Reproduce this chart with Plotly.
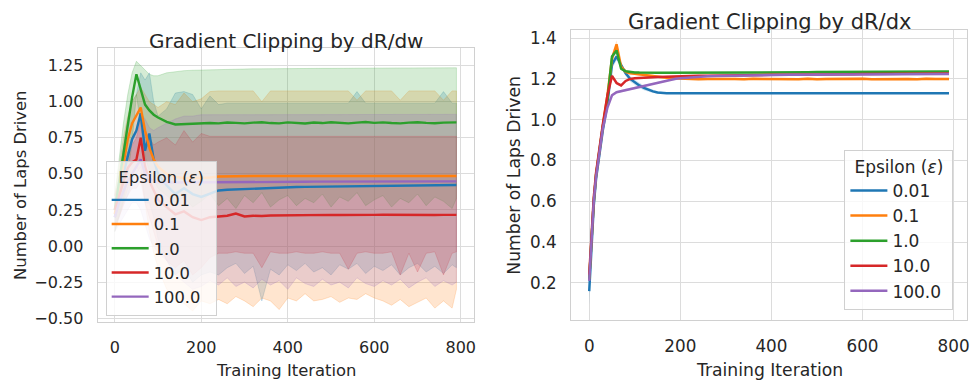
import plotly.graph_objects as go

# ---------------- data: left panel (Gradient Clipping by dR/dw) ----------------
X_L = [0, 10, 20, 30, 40, 50, 60, 70, 80, 90, 100, 120, 140, 160, 180, 200, 220, 240, 260, 280,
       300, 320, 340, 360, 380, 400, 420, 440, 460, 480, 500, 520, 540, 560, 580, 600, 620, 640,
       660, 680, 700, 720, 740, 760, 780, 790]

L_BLUE = [0.20, 0.35, 0.50, 0.62, 0.74, 0.80, 0.92, 0.66, 0.78, 0.60, 0.50,
          0.42, 0.36, 0.40, 0.36, 0.34, 0.36, 0.385, 0.39, 0.393, 0.396, 0.398, 0.40, 0.403, 0.405,
          0.407, 0.409, 0.41, 0.411, 0.412, 0.413, 0.414, 0.415, 0.416, 0.417, 0.418, 0.418, 0.419,
          0.42, 0.42, 0.421, 0.421, 0.422, 0.422, 0.423, 0.423]
L_ORANGE = [0.22, 0.40, 0.58, 0.74, 0.85, 0.91, 0.96, 0.80, 0.68, 0.60, 0.55,
            0.50, 0.48, 0.47, 0.47, 0.47, 0.475, 0.482, 0.484, 0.485, 0.484, 0.485, 0.485, 0.484,
            0.485, 0.485, 0.486, 0.485, 0.485, 0.484, 0.485, 0.485, 0.486, 0.485, 0.485, 0.484,
            0.485, 0.485, 0.486, 0.485, 0.485, 0.484, 0.485, 0.485, 0.485, 0.485]
L_GREEN = [0.25, 0.45, 0.66, 0.86, 1.03, 1.19, 1.08, 0.98, 0.94, 0.91, 0.89,
           0.86, 0.842, 0.845, 0.85, 0.848, 0.852, 0.85, 0.856, 0.853, 0.85, 0.855, 0.858, 0.852,
           0.85, 0.857, 0.853, 0.849, 0.856, 0.852, 0.858, 0.854, 0.85, 0.855, 0.859, 0.853, 0.857,
           0.852, 0.85, 0.855, 0.858, 0.853, 0.851, 0.855, 0.858, 0.857]
L_RED = [0.25, 0.35, 0.45, 0.54, 0.58, 0.60, 0.75, 0.55, 0.45, 0.38, 0.32,
         0.27, 0.22, 0.24, 0.20, 0.18, 0.20, 0.205, 0.21, 0.225, 0.205, 0.21, 0.208, 0.212, 0.213,
         0.214, 0.213, 0.215, 0.214, 0.215, 0.216, 0.215, 0.214, 0.216, 0.215, 0.216, 0.217, 0.216,
         0.215, 0.216, 0.217, 0.216, 0.215, 0.216, 0.215, 0.216]
L_PURPLE = [0.20, 0.30, 0.38, 0.45, 0.50, 0.55, 0.60, 0.50, 0.47, 0.45, 0.44,
            0.44, 0.44, 0.44, 0.441, 0.441, 0.442, 0.442, 0.443, 0.443, 0.443, 0.444, 0.444, 0.444,
            0.445, 0.445, 0.445, 0.445, 0.446, 0.446, 0.446, 0.446, 0.446, 0.446, 0.447, 0.447,
            0.447, 0.447, 0.447, 0.447, 0.447, 0.448, 0.448, 0.448, 0.448, 0.448]

L_BLUE_LO = [0.10, 0.20, 0.30, 0.35, 0.45, 0.50, 0.55, 0.30, 0.30, 0.20, 0.05,
             -0.10, -0.20, -0.15, -0.25, -0.20, -0.18, -0.20, -0.15, -0.12, -0.19, -0.14, -0.38,
             -0.16, -0.20, -0.13, -0.17, -0.12, -0.18, -0.15, -0.20, -0.13, -0.16, -0.12, -0.19,
             -0.14, -0.17, -0.13, -0.20, -0.15, -0.12, -0.18, -0.14, -0.19, -0.13, -0.15]
L_BLUE_HI = [0.30, 0.50, 0.70, 0.88, 1.00, 1.05, 1.20, 1.15, 1.20, 1.00, 0.90,
             0.95, 1.06, 1.07, 1.05, 0.95, 1.04, 0.98, 0.99, 0.99, 0.99, 0.99, 0.995, 0.99, 0.99,
             0.99, 0.99, 0.99, 0.99, 0.99, 0.99, 0.99, 0.99, 1.07, 0.99, 0.99, 0.99, 0.99, 0.99,
             0.99, 0.99, 0.99, 0.99, 1.07, 0.99, 0.99]
L_ORANGE_LO = [0.10, 0.20, 0.30, 0.40, 0.50, 0.55, 0.50, 0.30, 0.10, -0.05, -0.15,
               -0.30, -0.35, -0.40, -0.45, -0.38, -0.40, -0.37, -0.40, -0.35, -0.38, -0.42, -0.36,
               -0.38, -0.44, -0.36, -0.38, -0.33, -0.38, -0.37, -0.35, -0.39, -0.36, -0.37, -0.33,
               -0.36, -0.38, -0.41, -0.37, -0.42, -0.39, -0.36, -0.43, -0.38, -0.43, -0.30]
L_ORANGE_HI = [0.35, 0.55, 0.75, 0.90, 1.00, 1.05, 1.10, 1.05, 1.00, 0.98, 0.96,
               1.00, 0.98, 1.06, 1.00, 1.02, 1.07, 1.075, 1.075, 1.075, 1.075, 1.075, 1.00, 1.075,
               1.075, 1.075, 1.075, 1.075, 1.075, 1.075, 1.075, 1.075, 1.075, 1.01, 1.075, 1.075,
               1.075, 1.075, 1.01, 1.075, 1.075, 1.075, 1.075, 1.01, 1.075, 1.075]
L_GREEN_LO = [0.10, 0.20, 0.32, 0.48, 0.72, 1.05, 0.82, 0.62, 0.52, 0.46, 0.40,
              0.35, 0.30, 0.34, 0.27, 0.31, 0.36, 0.28, 0.33, 0.26, 0.35, 0.30, 0.37, 0.27, 0.32,
              0.35, 0.28, 0.33, 0.30, 0.36, 0.27, 0.34, 0.31, 0.37, 0.28, 0.32, 0.35, 0.27, 0.33,
              0.30, 0.36, 0.28, 0.34, 0.31, 0.26, 0.33]
L_GREEN_HI = [0.35, 0.60, 0.85, 1.05, 1.20, 1.28, 1.25, 1.22, 1.19, 1.18, 1.18,
              1.20, 1.21, 1.215, 1.218, 1.22, 1.222, 1.224, 1.225, 1.226, 1.227, 1.228, 1.228,
              1.229, 1.229, 1.23, 1.23, 1.23, 1.231, 1.231, 1.231, 1.232, 1.232, 1.232, 1.233,
              1.233, 1.233, 1.233, 1.234, 1.234, 1.234, 1.234, 1.235, 1.235, 1.235, 1.235]
L_RED_LO = [0.15, 0.20, 0.28, 0.35, 0.40, 0.40, 0.45, 0.30, 0.20, 0.10, 0.00,
            -0.10, -0.15, -0.10, -0.20, -0.15, -0.08, -0.05, -0.05, -0.04, -0.05, -0.05, -0.15,
            -0.04, -0.05, -0.05, -0.04, -0.05, -0.05, -0.04, -0.05, -0.05, -0.16, -0.05, -0.04,
            -0.05, -0.05, -0.04, -0.20, -0.05, -0.18, -0.05, -0.04, -0.20, -0.05, -0.04]
L_RED_HI = [0.35, 0.45, 0.55, 0.65, 0.70, 0.75, 0.88, 0.80, 0.75, 0.70, 0.72,
            0.75, 0.70, 0.80, 0.72, 0.78, 0.76, 0.76, 0.76, 0.76, 0.76, 0.76, 0.761, 0.76, 0.76,
            0.761, 0.76, 0.76, 0.761, 0.76, 0.76, 0.761, 0.76, 0.76, 0.761, 0.76, 0.76, 0.761,
            0.76, 0.76, 0.761, 0.76, 0.76, 0.761, 0.76, 0.76]
L_PURPLE_LO = [0.10, 0.15, 0.20, 0.25, 0.30, 0.30, 0.25, 0.15, 0.05, 0.00, -0.05,
               -0.10, -0.20, -0.25, -0.30, -0.28, -0.24, -0.27, -0.22, -0.28, -0.25, -0.29, -0.23,
               -0.27, -0.24, -0.30, -0.22, -0.26, -0.28, -0.23, -0.27, -0.25, -0.29, -0.22, -0.26,
               -0.28, -0.24, -0.27, -0.23, -0.29, -0.25, -0.22, -0.28, -0.24, -0.27, -0.25]
L_PURPLE_HI = [0.30, 0.42, 0.55, 0.65, 0.72, 0.80, 0.92, 0.88, 0.82, 0.80, 0.82,
               0.85, 0.88, 0.90, 0.90, 0.91, 0.91, 0.91, 0.912, 0.91, 0.91, 0.912, 0.91, 0.91,
               0.912, 0.91, 0.91, 0.912, 0.91, 0.91, 0.912, 0.91, 0.91, 0.912, 0.91, 0.91, 0.912,
               0.91, 0.91, 0.912, 0.91, 0.91, 0.912, 0.91, 0.91, 0.912]

# ---------------- data: right panel (Gradient Clipping by dR/dx) ----------------
X_R = [0, 5, 10, 15, 20, 25, 30, 40, 50, 60, 70, 80, 90, 100, 110, 120, 130, 140, 150, 160, 170,
       180, 190, 200, 220, 240, 260, 280, 300, 320, 340, 360, 380, 400, 420, 440, 460, 480, 500,
       520, 540, 560, 580, 600, 620, 640, 660, 680, 700, 720, 740, 760, 780, 790]

R_BLUE = [0.16, 0.40, 0.58, 0.71, 0.80, 0.88, 0.95, 1.08, 1.27, 1.31, 1.265, 1.228, 1.20, 1.183,
          1.168, 1.156, 1.146, 1.139, 1.134, 1.131, 1.13, 1.13, 1.13, 1.13,
          1.13, 1.131, 1.13, 1.13, 1.131, 1.13, 1.13, 1.131, 1.13, 1.13, 1.131, 1.13, 1.13, 1.131,
          1.13, 1.13, 1.131, 1.13, 1.13, 1.131, 1.13, 1.13, 1.131, 1.13, 1.13, 1.131, 1.13, 1.13,
          1.131, 1.13]
R_ORANGE = [0.22, 0.43, 0.60, 0.73, 0.82, 0.90, 0.97, 1.12, 1.30, 1.37, 1.26, 1.235, 1.228, 1.225,
            1.222, 1.218, 1.215, 1.212, 1.21, 1.208, 1.206, 1.204, 1.203, 1.202,
            1.201, 1.199, 1.20, 1.201, 1.199, 1.20, 1.198, 1.201, 1.20, 1.199, 1.201, 1.20, 1.199,
            1.201, 1.198, 1.20, 1.201, 1.199, 1.20, 1.201, 1.199, 1.20, 1.201, 1.199, 1.20, 1.198,
            1.201, 1.20, 1.199, 1.20]
R_GREEN = [0.22, 0.43, 0.60, 0.73, 0.82, 0.90, 0.97, 1.10, 1.31, 1.34, 1.25, 1.238, 1.234, 1.232,
           1.231, 1.23, 1.23, 1.23, 1.23, 1.23, 1.23, 1.23, 1.23, 1.23,
           1.23, 1.23, 1.231, 1.231, 1.231, 1.232, 1.232, 1.232, 1.232, 1.233, 1.233, 1.233, 1.233,
           1.233, 1.234, 1.234, 1.234, 1.234, 1.234, 1.234, 1.235, 1.235, 1.235, 1.235, 1.235,
           1.235, 1.236, 1.236, 1.236, 1.236]
R_RED = [0.24, 0.45, 0.62, 0.74, 0.83, 0.91, 0.98, 1.12, 1.215, 1.18, 1.168, 1.19, 1.20, 1.203,
         1.205, 1.206, 1.207, 1.208, 1.209, 1.21, 1.211, 1.212, 1.213, 1.214,
         1.215, 1.216, 1.216, 1.217, 1.217, 1.218, 1.218, 1.219, 1.219, 1.22, 1.22, 1.22, 1.221,
         1.221, 1.222, 1.222, 1.222, 1.223, 1.223, 1.224, 1.224, 1.224, 1.225, 1.225, 1.225,
         1.226, 1.226, 1.226, 1.227, 1.227]
R_PURPLE = [0.21, 0.42, 0.60, 0.72, 0.81, 0.89, 0.96, 1.06, 1.12, 1.135, 1.14, 1.147, 1.152, 1.157,
            1.162, 1.167, 1.172, 1.178, 1.183, 1.188, 1.193, 1.197, 1.201, 1.204,
            1.208, 1.211, 1.213, 1.215, 1.216, 1.217, 1.218, 1.218, 1.219, 1.219, 1.22, 1.22, 1.22,
            1.221, 1.221, 1.221, 1.221, 1.222, 1.222, 1.222, 1.222, 1.222, 1.223, 1.223, 1.223,
            1.223, 1.223, 1.223, 1.224, 1.224]

# 95% CI half-widths (right panel)
R_BLUE_CI = [0.07, 0.05, 0.04, 0.03, 0.025, 0.02, 0.02, 0.02, 0.02, 0.02, 0.015, 0.014, 0.014,
             0.013, 0.012, 0.012, 0.01, 0.008, 0.006, 0.005, 0.004, 0.004, 0.004, 0.004,
             0.004, 0.004, 0.004, 0.004, 0.004, 0.004, 0.004, 0.004, 0.004, 0.004, 0.004, 0.004,
             0.004, 0.004, 0.004, 0.004, 0.004, 0.004, 0.004, 0.004, 0.004, 0.004, 0.004, 0.004,
             0.004, 0.004, 0.004, 0.004, 0.004, 0.004]
R_ORANGE_CI = [0.03, 0.03, 0.03, 0.025, 0.02, 0.02, 0.02, 0.02, 0.02, 0.02, 0.012, 0.008, 0.006,
               0.006, 0.006, 0.006, 0.006, 0.006, 0.006, 0.006, 0.006, 0.006, 0.006, 0.006,
               0.006, 0.006, 0.006, 0.006, 0.006, 0.006, 0.006, 0.006, 0.006, 0.006, 0.006, 0.006,
               0.006, 0.006, 0.006, 0.006, 0.006, 0.006, 0.006, 0.006, 0.006, 0.006, 0.006, 0.006,
               0.006, 0.006, 0.006, 0.006, 0.006, 0.006]
R_GREEN_CI = [0.03, 0.03, 0.03, 0.025, 0.02, 0.02, 0.02, 0.015, 0.012, 0.012, 0.008, 0.005,
              0.004, 0.004, 0.004, 0.004, 0.004, 0.004, 0.004, 0.004, 0.004, 0.004, 0.004, 0.004,
              0.004, 0.004, 0.004, 0.004, 0.004, 0.004, 0.004, 0.004, 0.004, 0.004, 0.004, 0.004,
              0.004, 0.004, 0.004, 0.004, 0.004, 0.004, 0.004, 0.004, 0.004, 0.004, 0.004, 0.004,
              0.004, 0.004, 0.004, 0.004, 0.004, 0.004]
R_RED_CI = [0.03, 0.03, 0.03, 0.025, 0.02, 0.02, 0.02, 0.015, 0.01, 0.008, 0.006, 0.005, 0.004,
            0.004, 0.004, 0.004, 0.004, 0.004, 0.004, 0.004, 0.004, 0.004, 0.004, 0.004,
            0.004, 0.004, 0.004, 0.004, 0.004, 0.004, 0.004, 0.004, 0.004, 0.004, 0.004, 0.004,
            0.004, 0.004, 0.004, 0.004, 0.004, 0.004, 0.004, 0.004, 0.004, 0.004, 0.004, 0.004,
            0.004, 0.004, 0.004, 0.004, 0.004, 0.004]
R_PURPLE_CI = [0.03, 0.03, 0.03, 0.025, 0.02, 0.02, 0.02, 0.012, 0.008, 0.006, 0.005, 0.005,
               0.005, 0.005, 0.005, 0.005, 0.005, 0.005, 0.005, 0.005, 0.005, 0.005, 0.005, 0.005,
               0.004, 0.004, 0.004, 0.004, 0.004, 0.004, 0.004, 0.004, 0.004, 0.004, 0.004, 0.004,
               0.004, 0.004, 0.004, 0.004, 0.004, 0.004, 0.004, 0.004, 0.004, 0.004, 0.004, 0.004,
               0.004, 0.004, 0.004, 0.004, 0.004, 0.004]

EPSILONS = ["0.01", "0.1", "1.0", "10.0", "100.0"]
COLORS = ["#1f77b4", "#ff7f0e", "#2ca02c", "#d62728", "#9467bd"]

LEFT_TICKS = [-0.5, -0.25, 0.0, 0.25, 0.5, 0.75, 1.0, 1.25]
RIGHT_TICKS = [0.2, 0.4, 0.6, 0.8, 1.0, 1.2, 1.4]
X_TICKS = [0, 200, 400, 600, 800]

FONT = "DejaVu Sans"
TXT = "#262626"


def rgba(hexc, a):
    h = hexc.lstrip("#")
    return "rgba(%d,%d,%d,%s)" % (int(h[0:2], 16), int(h[2:4], 16), int(h[4:6], 16), a)


def fmt(v, nd):
    s = f"{abs(v):.{nd}f}"
    return ("\u2212" + s) if v < 0 else s


NBSP = "\u00a0"

fig = go.Figure()

left_means = [L_BLUE, L_ORANGE, L_GREEN, L_RED, L_PURPLE]
left_lo = [L_BLUE_LO, L_ORANGE_LO, L_GREEN_LO, L_RED_LO, L_PURPLE_LO]
left_hi = [L_BLUE_HI, L_ORANGE_HI, L_GREEN_HI, L_RED_HI, L_PURPLE_HI]

right_means = [R_BLUE, R_ORANGE, R_GREEN, R_RED, R_PURPLE]
right_ci = [R_BLUE_CI, R_ORANGE_CI, R_GREEN_CI, R_RED_CI, R_PURPLE_CI]

# bands (below all lines)
for lo, hi, c in zip(left_lo, left_hi, COLORS):
    fig.add_trace(go.Scatter(x=X_L + X_L[::-1], y=hi + lo[::-1], fill="toself",
                             fillcolor=rgba(c, 0.2), mode="lines",
                             line=dict(color=rgba(c, 0.25), width=0.8),
                             hoverinfo="skip", showlegend=False, xaxis="x", yaxis="y"))
for m, ci, c in zip(right_means, right_ci, COLORS):
    hi = [a + b for a, b in zip(m, ci)]
    lo = [a - b for a, b in zip(m, ci)]
    fig.add_trace(go.Scatter(x=X_R + X_R[::-1], y=hi + lo[::-1], fill="toself",
                             fillcolor=rgba(c, 0.2), mode="lines", line=dict(width=0),
                             hoverinfo="skip", showlegend=False, xaxis="x2", yaxis="y2"))

# mean lines
for m, c, name in zip(left_means, COLORS, EPSILONS):
    fig.add_trace(go.Scatter(x=X_L, y=m, mode="lines", name=name + NBSP * 2,
                             line=dict(color=c, width=2.4), xaxis="x", yaxis="y",
                             legend="legend"))
for m, c, name in zip(right_means, COLORS, EPSILONS):
    fig.add_trace(go.Scatter(x=X_R, y=m, mode="lines", name=name + NBSP,
                             line=dict(color=c, width=2.5), xaxis="x2", yaxis="y2",
                             legend="legend2"))

W, H = 973, 380


def axis_style(size):
    return dict(showgrid=True, gridcolor="#dcdcdc", gridwidth=1.1, zeroline=False,
                showline=True, linecolor="#d0d0d0", linewidth=1.3, mirror=True,
                ticks="", tickfont=dict(family=FONT, size=size, color=TXT))


def legend_style(size):
    return dict(bgcolor="rgba(255,255,255,0.8)", bordercolor="#d0d0d0", borderwidth=1,
                font=dict(family=FONT, size=size, color=TXT),
                title=dict(text="Epsilon (<i>\u03b5</i>)", side="top center",
                           font=dict(family=FONT, size=size, color=TXT)),
                xanchor="left", yanchor="top", tracegroupgap=0, itemwidth=37)


fig.update_layout(
    width=W, height=H, autosize=False,
    margin=dict(l=0, r=0, t=0, b=0),
    paper_bgcolor="white", plot_bgcolor="white",
    font=dict(family=FONT, color=TXT),
    xaxis=dict(domain=[98 / W, 475 / W], range=[-39.5, 829.5], tickvals=X_TICKS,
               ticktext=[str(v) for v in X_TICKS], ticklabelstandoff=11, anchor="y",
               **axis_style(16)),
    yaxis=dict(domain=[1 - 327 / H, 1 - 47 / H], range=[-0.527, 1.372], tickvals=LEFT_TICKS,
               ticktext=[fmt(v, 2) for v in LEFT_TICKS], ticklabelstandoff=10, anchor="x",
               **axis_style(16)),
    xaxis2=dict(domain=[573 / W, 970 / W], range=[-39.5, 829.5], tickvals=X_TICKS,
                ticktext=[str(v) for v in X_TICKS], ticklabelstandoff=11, anchor="y2",
                **axis_style(16.8)),
    yaxis2=dict(domain=[1 - 325 / H, 1 - 29 / H], range=[0.0176, 1.438], tickvals=RIGHT_TICKS,
                ticktext=[fmt(v, 1) for v in RIGHT_TICKS], ticklabelstandoff=10, anchor="x2",
                **axis_style(16.8)),
    legend=dict(x=106 / W, y=1 - 162 / H, **legend_style(16.3)),
    legend2=dict(x=847 / W, y=1 - 151 / H, **legend_style(17)),
    showlegend=True,
)

ann = []
def add_text(text, xpx, ypx, size, angle=0):
    ann.append(dict(text=text, x=xpx / W, y=1 - ypx / H, xref="paper", yref="paper",
                    xanchor="center", yanchor="middle", showarrow=False, textangle=angle,
                    font=dict(family=FONT, size=size, color=TXT)))

add_text("Gradient Clipping by dR/dw", 286.5, 39.5, 20)
add_text("Gradient Clipping by dR/dx", 771.5, 20, 21)
add_text("Training Iteration", 286.5, 376, 16.4)
add_text("Training Iteration", 771.5, 376, 17.2)
add_text("Number of Laps Driven", 20, 187, 16.4, -90)
add_text("Number of Laps Driven", 516, 177, 17.2, -90)
fig.update_layout(annotations=ann)

fig.write_html("out.html", config={"displayModeBar": False},
               post_script="document.body.style.margin='0';document.body.style.overflow='hidden';")
